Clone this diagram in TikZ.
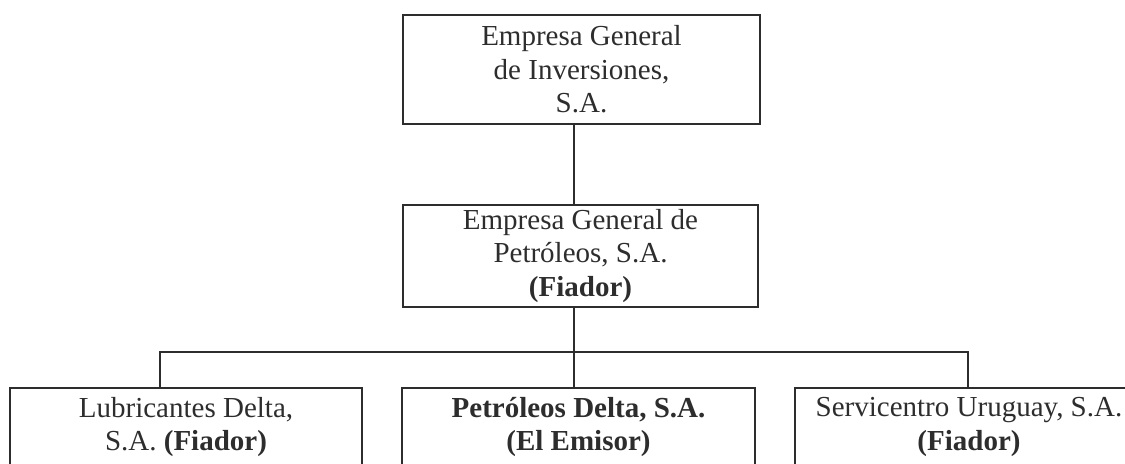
\documentclass[tikz,border=0pt]{standalone}
\usepackage{fontspec}
\setmainfont{Liberation Serif}
\usetikzlibrary{positioning}
\definecolor{ink}{RGB}{45,45,45}
\tikzset{
    firm/.style={draw=ink, text=ink, line width=0.65pt, inner sep=0pt, align=center,
        font=\fontsize{14.5}{16.75}\selectfont},
    link/.style={draw=ink, line width=0.65pt}
}

\begin{document}
\begin{tikzpicture}[x=0.5pt,y=-0.5pt]
    \clip (0,0) rectangle (1125,464);

    \node[firm, line width=1pt, minimum width=178.5pt, minimum height=54.5pt] (holding) at (581.5,69.5) {Empresa General\\de Inversiones,\\S.A.};
    \node[firm, minimum width=177.5pt, minimum height=51pt] (guarantor) at (580.5,256) {Empresa General de\\Petróleos, S.A.\\\textbf{(Fiador)}};

    \node[firm, minimum width=176pt, minimum height=39pt] (lubricantes) at (186,427) {Lubricantes Delta,\\S.A. \textbf{(Fiador)}};
    \node[firm, minimum width=176.5pt, minimum height=39pt] (emisor) at (578.5,427) {\textbf{Petróleos Delta, S.A.}\\\textbf{(El Emisor)}};
    \node[firm, minimum width=174pt, minimum height=39pt] (servicentro) at (969,427) {Servicentro Uruguay, S.A.\\\textbf{(Fiador)}};

    \coordinate (trunk) at (574,352);
    \coordinate (lbus) at (160,352);
    \coordinate (rbus) at (968,352);

    \draw[link] (holding.south -| trunk) -- (guarantor.north -| trunk);
    \draw[link] (guarantor.south -| trunk) -- (trunk);
    \draw[link] (lubricantes.north -| lbus) -- (lbus) -- (rbus) -- (servicentro.north -| rbus);
    \draw[link] (trunk) -- (emisor.north -| trunk);
\end{tikzpicture}
\end{document}
